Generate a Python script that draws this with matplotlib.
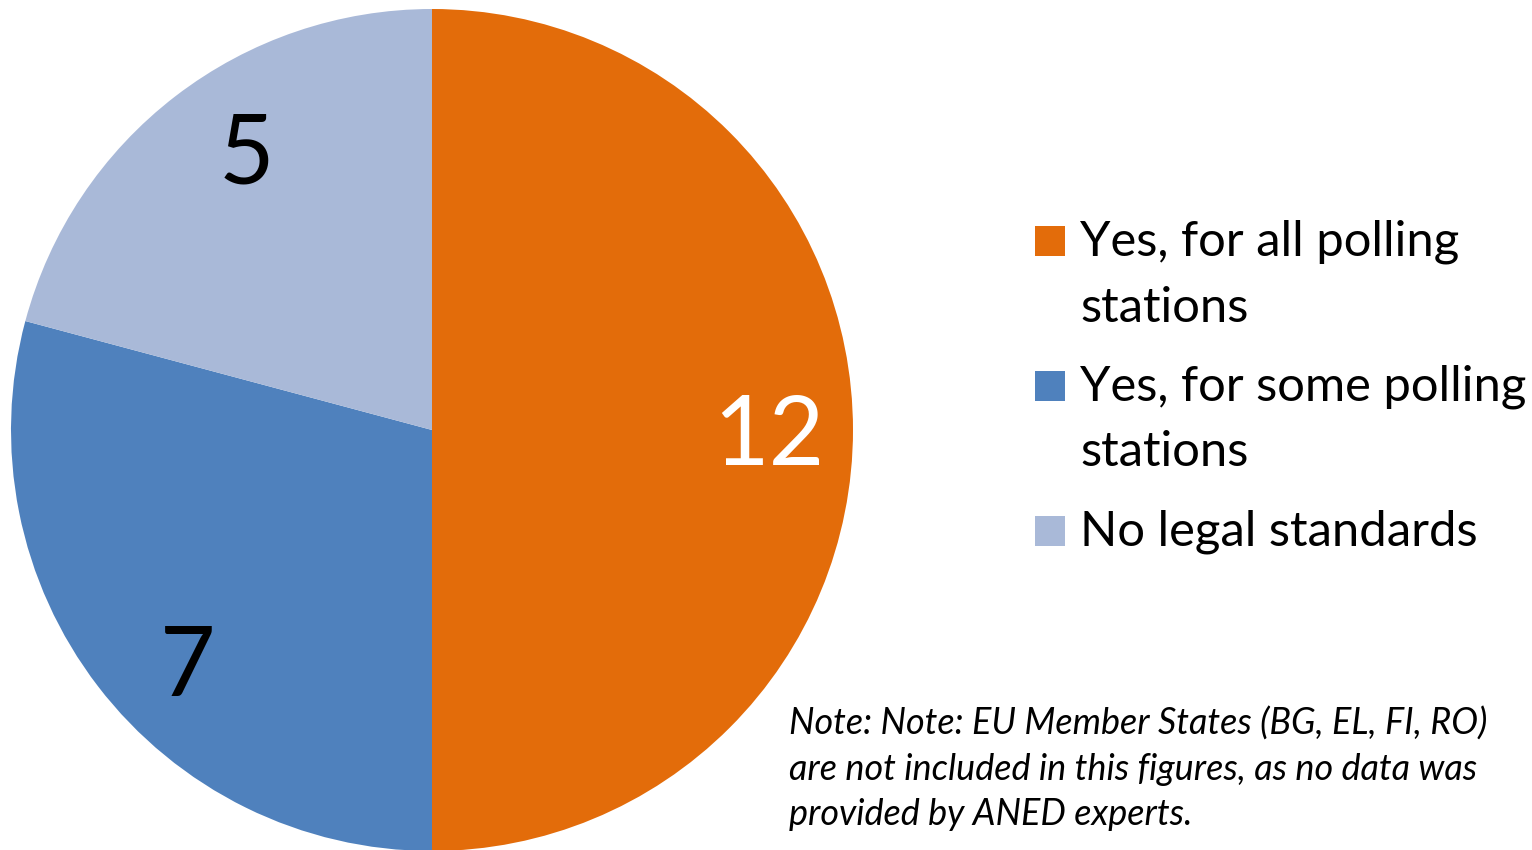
import numpy as np
import matplotlib.pyplot as plt
from matplotlib.patches import Rectangle

categories = ["Yes, for all polling\nstations", "Yes, for some polling\nstations", "No legal standards"]
counts = [12, 7, 5]
colors = ["#E36C0A", "#4F81BD", "#A9B9D8"]
label_colors = ["white", "black", "black"]
label_shift = [0, 6, -4]       # degrees, nudges the value labels inside their wedge
note_lines = ["Note: Note: EU Member States (BG, EL, FI, RO)",
              "are not included in this figures, as no data was",
              "provided by ANED experts."]

plt.rcParams['font.family'] = ['Lato', 'DejaVu Sans']

W, H = 1532, 850
fig = plt.figure(figsize=(W / 100, H / 100), dpi=100)

# pie axes placed in pixel units: centre (432, 430), radius 421
cx, cy, r = 432, 430, 421
ax = fig.add_axes([(cx - r) / W, 1 - (cy + r) / H, 2 * r / W, 2 * r / H])
wedges, _ = ax.pie(counts, colors=colors, startangle=90, counterclock=False,
                   wedgeprops=dict(linewidth=0), radius=1.0)
ax.set_xlim(-1, 1)
ax.set_ylim(-1, 1)
ax.set_aspect('equal')
ax.axis('off')

# value labels, centred on the digits rather than on the font box
fs = 69
for w, n, c, s in zip(wedges, counts, label_colors, label_shift):
    mid = np.deg2rad((w.theta1 + w.theta2) / 2 + s)
    ax.annotate(str(n), (0.8 * np.cos(mid), 0.8 * np.sin(mid)),
                xytext=(0, -0.36 * fs), textcoords='offset points',
                ha='center', va='baseline', fontsize=fs, color=c)

# legend drawn by hand so each square sits beside the first line of its label
px = lambda y: 1 - y / H
baseline = 256
for lab, col in zip(categories, colors):
    fig.patches.append(Rectangle((1035 / W, px(baseline)), 30 / W, 30 / H,
                                 transform=fig.transFigure, facecolor=col, edgecolor='none'))
    for line in lab.split("\n"):
        fig.text(1080 / W, px(baseline), line, fontsize=35.3, va='baseline', ha='left')
        baseline += 65.5
    baseline += 14

for i, line in enumerate(note_lines):
    fig.text(789 / W, px(735 + 45 * i), line, fontsize=25.9, style='italic',
             va='baseline', ha='left')

fig.savefig("out.png", dpi=100)
